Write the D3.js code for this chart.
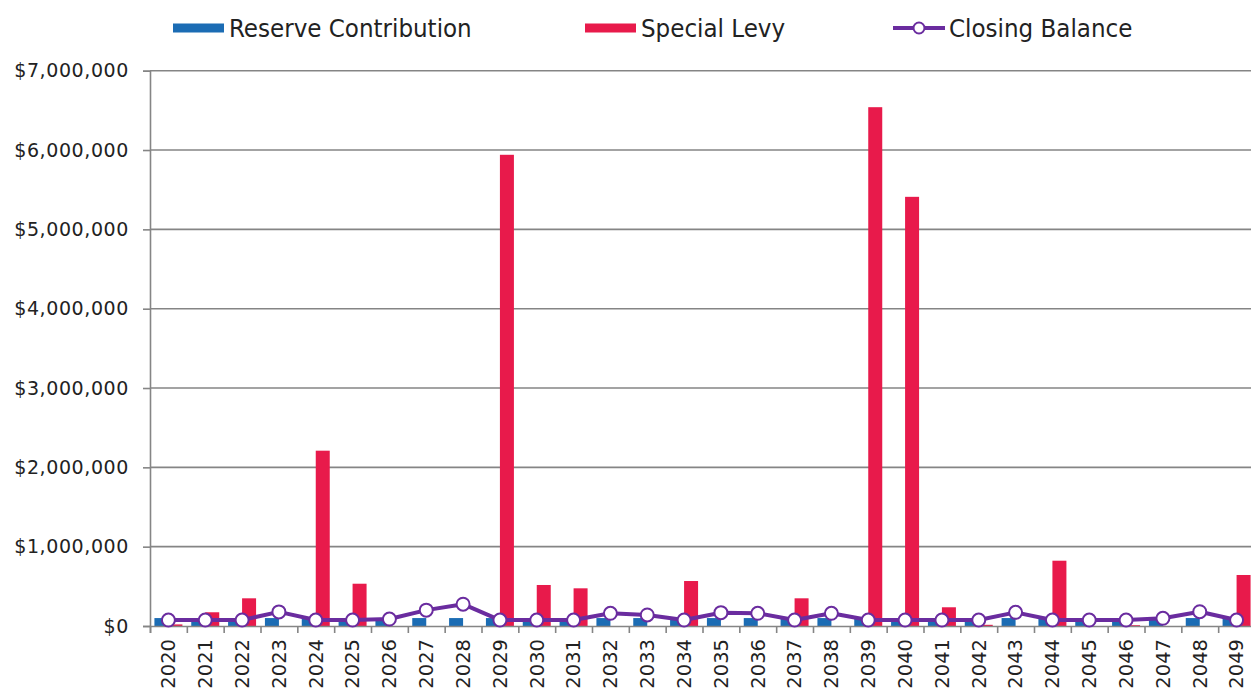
<!DOCTYPE html>
<html>
<head>
<meta charset="utf-8">
<script src="https://cdn.jsdelivr.net/npm/d3@7"></script>
<style>
  html, body { margin: 0; padding: 0; background: #fff; }
  svg { display: block; }
</style>
</head>
<body>
<svg id="chart" width="1251" height="694"></svg>
<script>
// Reserve fund projection, 2020–2049
const years = d3.range(2020, 2050).map(String);

const reserveContribution = [
  100000, 100000, 100000, 100000, 100000, 100000, 100000, 100000, 100000, 100000,
  100000, 100000, 100000, 100000, 100000, 100000, 100000, 100000, 100000, 100000,
  100000, 100000, 100000, 100000, 100000, 100000, 100000, 100000, 100000, 100000
];

const specialLevy = [
  20000, 173000, 349000, 0, 2210000, 533000, 0, 0, 0, 5940000,
  517000, 475000, 0, 0, 567000, 0, 0, 349000, 0, 6540000,
  5410000, 236000, 15000, 0, 823000, 0, 10000, 0, 0, 643000
];

const closingBalance = [
  75000, 75000, 75000, 178000, 75000, 75000, 88000, 200000, 275000, 75000,
  75000, 75000, 160000, 139000, 75000, 168000, 160000, 75000, 160000, 75000,
  75000, 75000, 75000, 172000, 75000, 75000, 75000, 97000, 180000, 75000
];

const yTicks = [0, 1000000, 2000000, 3000000, 4000000, 5000000, 6000000, 7000000];

const seriesNames = ["Reserve Contribution", "Special Levy", "Closing Balance"];
const colors = { reserve: "#1b6cb4", levy: "#e81a4b", balance: "#6a2c9f", grid: "#858585" };

const svg = d3.select("#chart");
const plot = { left: 150, right: 1255, top: 70.7, bottom: 626 };

const x = d3.scaleBand().domain(years).range([plot.left, plot.right])
  .paddingInner(0.24).paddingOuter(0.12);
const xSub = d3.scaleBand().domain(["reserve", "levy"]).range([0, x.bandwidth()]);
const y = d3.scaleLinear().domain([0, 7000000]).range([plot.bottom, plot.top]);

const fmt = v => "$" + d3.format(",")(v);

// horizontal gridlines
svg.append("g").selectAll("line").data(yTicks.slice(1)).join("line")
  .attr("x1", plot.left).attr("x2", 1251)
  .attr("y1", d => y(d)).attr("y2", d => y(d))
  .attr("stroke", colors.grid).attr("stroke-width", 1.6);

// y axis
const yAxis = svg.append("g").attr("transform", `translate(${plot.left},0)`)
  .call(d3.axisLeft(y).tickValues(yTicks).tickFormat(fmt).tickSize(7).tickPadding(14));
yAxis.select(".domain").attr("stroke", colors.grid).attr("stroke-width", 1.6);
yAxis.selectAll(".tick line").attr("stroke", colors.grid).attr("stroke-width", 1.6);
yAxis.selectAll("text")
  .attr("font-family", "'DejaVu Sans', Verdana, sans-serif")
  .attr("font-size", 19).attr("letter-spacing", 0.6).attr("fill", "#222");

// bars
const groups = svg.append("g").selectAll("g").data(years).join("g")
  .attr("transform", d => `translate(${x(d)},0)`);
groups.append("rect")
  .attr("x", xSub("reserve")).attr("width", xSub.bandwidth())
  .attr("y", (d, i) => y(reserveContribution[i]))
  .attr("height", (d, i) => y(0) - y(reserveContribution[i]))
  .attr("fill", colors.reserve);
groups.append("rect")
  .attr("x", xSub("levy")).attr("width", xSub.bandwidth())
  .attr("y", (d, i) => y(specialLevy[i]))
  .attr("height", (d, i) => y(0) - y(specialLevy[i]))
  .attr("fill", colors.levy);

// x axis: boundary ticks + rotated year labels
const xIdx = d3.scaleLinear().domain([0, years.length]).range([plot.left, plot.right]);
const xTickAxis = svg.append("g").attr("transform", `translate(0,${plot.bottom})`)
  .call(d3.axisBottom(xIdx).tickValues(d3.range(years.length + 1)).tickFormat("").tickSize(7));
xTickAxis.select(".domain").attr("stroke", colors.grid).attr("stroke-width", 1.6);
xTickAxis.selectAll(".tick line").attr("stroke", colors.grid).attr("stroke-width", 1.6);

const xLab = svg.append("g").attr("transform", `translate(0,${plot.bottom})`)
  .call(d3.axisBottom(x).tickSize(0).tickPadding(0));
xLab.select(".domain").remove();
xLab.selectAll("text")
  .attr("font-family", "'DejaVu Sans', Verdana, sans-serif")
  .attr("font-size", 19.5).attr("fill", "#222")
  .attr("transform", "rotate(-90)")
  .attr("text-anchor", "end").attr("dy", "0.35em").attr("x", -13).attr("y", 0);

// closing balance line
const cx = (d, i) => x(years[i]) + x.bandwidth() / 2;
const line = d3.line().x((d, i) => cx(d, i)).y(d => y(d));
svg.append("path").datum(closingBalance)
  .attr("d", line).attr("fill", "none")
  .attr("stroke", colors.balance).attr("stroke-width", 4).attr("stroke-linejoin", "round");
svg.append("g").selectAll("circle").data(closingBalance).join("circle")
  .attr("cx", cx).attr("cy", d => y(d)).attr("r", 6.5)
  .attr("fill", "#fff").attr("stroke", colors.balance).attr("stroke-width", 2);

// legend
const legendFont = "'Liberation Sans Narrow', 'Arial Narrow', 'DejaVu Sans Condensed', sans-serif";
const legend = svg.append("g");
const legendItems = [
  { name: seriesNames[0], x: 173, type: "bar", color: colors.reserve },
  { name: seriesNames[1], x: 585, type: "bar", color: colors.levy },
  { name: seriesNames[2], x: 893, type: "line", color: colors.balance }
];
legendItems.forEach(it => {
  const g = legend.append("g").attr("transform", `translate(${it.x},28)`);
  if (it.type === "bar") {
    g.append("rect").attr("x", 0).attr("y", -4.5).attr("width", 51).attr("height", 9).attr("fill", it.color);
  } else {
    g.append("line").attr("x1", 0).attr("x2", 52).attr("y1", 0).attr("y2", 0)
      .attr("stroke", it.color).attr("stroke-width", 4);
    g.append("circle").attr("cx", 26).attr("cy", 0).attr("r", 5.5)
      .attr("fill", "#fff").attr("stroke", it.color).attr("stroke-width", 2);
  }
  g.append("text").attr("x", 56).attr("y", 0).attr("dy", "0.35em")
    .attr("font-family", legendFont).attr("font-size", 25.6).attr("fill", "#222")
    .text(it.name);
});
</script>
</body>
</html>
